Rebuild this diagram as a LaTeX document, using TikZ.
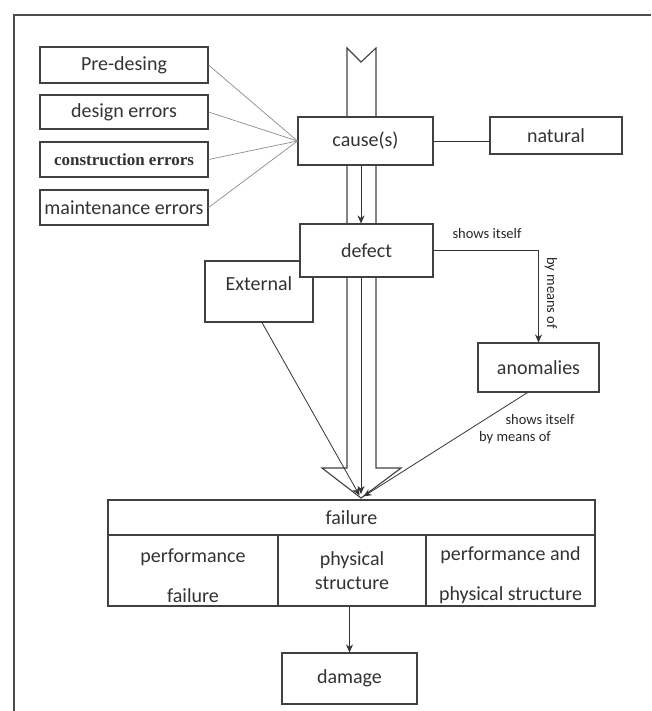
\documentclass[tikz,border=0pt]{standalone}
\usepackage{fontspec}
\setmainfont{Carlito}
\newfontfamily\timesfont{Liberation Serif}
\usetikzlibrary{arrows.meta}
\tikzset{>={Stealth[length=8pt,width=7pt]}}
\tikzstyle{box}=[draw=black!75,line width=1.1pt,fill=white,inner sep=0pt,text=black!80,font=\fontsize{20}{24}\selectfont]
\tikzstyle{lbl}=[inner sep=0pt,text=black!85,font=\fontsize{14.5}{17}\selectfont]
\tikzstyle{conn}=[draw=black!80,line width=.8pt]
\tikzstyle{feed}=[draw=black!45,line width=.7pt]

\begin{document}
\begin{tikzpicture}[x=1pt,y=-1pt]
  \useasboundingbox (0,0) rectangle (651,711);
  \draw[black!70,line width=1.2pt] (651,15) -- (14,15) -- (14,711);
  \draw[black!75,line width=1.1pt] (347,48) -- (347,468) -- (322,468) -- (361,498) -- (401,468) -- (376,468) -- (376,48) -- (361,62) -- cycle;
  \coordinate (tip) at (361,498);
  \node[box,minimum width=168,minimum height=36] (pre) at (124,65) {Pre-desing};
  \node[box,minimum width=168,minimum height=34] (des) at (124,112) {design errors};
  \node[box,minimum width=168,minimum height=35,font=\timesfont\fontsize{17}{19}\selectfont\bfseries] (con) at (124,159.5) {construction errors};
  \node[box,minimum width=168,minimum height=35] (mai) at (124,207.5) {maintenance errors};
  \node[box,minimum width=135,minimum height=48] (cause) at (365.5,141) {cause(s)};
  \node[box,minimum width=132,minimum height=37] (nat) at (556,135.5) {natural};
  \node[box,minimum width=108,minimum height=61,text height=14pt,text depth=17pt] (ext) at (259,291.5) {External};
  \node[box,minimum width=133,minimum height=53] (defect) at (366.5,250.5) {defect};
  \node[box,minimum width=121,minimum height=49] (anom) at (538.5,367.5) {anomalies};
  \node[box,minimum width=487,minimum height=35] (fail) at (351.5,517.5) {failure};
  \node[box,minimum width=170,minimum height=71,align=center] (perf) at (193,570.5) {\rule{0pt}{24pt}performance\\[16pt]failure};
  \node[box,minimum width=148,minimum height=71,align=center] (phys) at (352,570.5) {physical\\structure};
  \node[box,minimum width=169,minimum height=71,align=center] (both) at (510.5,570.5) {\rule{0pt}{24pt}performance and\\[16pt]physical structure};
  \node[box,minimum width=135,minimum height=51] (dam) at (349.5,678.5) {damage};
  \node[lbl] (show1) at (487,234) {shows itself};
  \node[lbl,rotate=-90] (means1) at (551,293) {by means of};
  \node[lbl] (show2) at (540,420) {shows itself};
  \node[lbl] (means2) at (515,438) {by means of};
  \draw[feed] (pre.east) -- (cause.west);
  \draw[feed] (des.east) -- (cause.west);
  \draw[feed] (con.east) -- (cause.west);
  \draw[feed] (mai.east) -- (cause.west);
  \draw[conn] (cause.east) -- (cause.east -| nat.west);
  \draw[conn,->] (cause.south -| tip) -- (defect.north -| tip);
  \draw[conn,->] (defect.east) -| (anom.north);
  \draw[conn,->,shorten >=4pt] (defect.south -| tip) -- (tip);
  \draw[conn,->,shorten >=3pt] ([xshift=3pt]ext.south) -- (tip);
  \draw[conn,->,shorten >=3pt] ([xshift=-11pt]anom.south) -- (tip);
  \draw[conn,->] (dam.north |- phys.south) -- (dam.north);
\end{tikzpicture}
\end{document}
